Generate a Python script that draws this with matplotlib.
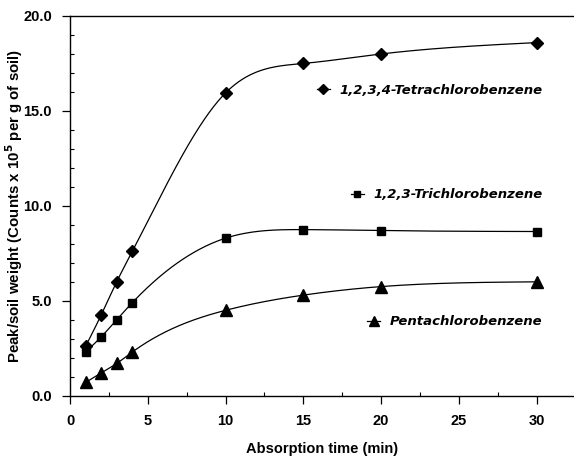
import numpy as np
import matplotlib
matplotlib.use("Agg")
from matplotlib import pyplot as plt
from matplotlib.ticker import MultipleLocator, FormatStrFormatter

plt.rcParams['font.family'] = ['Liberation Sans', 'DejaVu Sans']

# data
time = [1, 2, 3, 4, 10, 15, 20, 30]
tetra = [2.6, 4.25, 6.0, 7.6, 15.95, 17.5, 18.0, 18.6]
tri = [2.3, 3.1, 4.0, 4.9, 8.3, 8.75, 8.7, 8.65]
penta = [0.7, 1.2, 1.7, 2.3, 4.5, 5.3, 5.75, 6.0]
names = ['1,2,3,4-Tetrachlorobenzene', '1,2,3-Trichlorobenzene', 'Pentachlorobenzene']


def natural_spline(x, y, xs):
    x = np.asarray(x, float)
    y = np.asarray(y, float)
    n = len(x)
    h = np.diff(x)
    A = np.zeros((n, n))
    b = np.zeros(n)
    A[0, 0] = 1
    A[-1, -1] = 1
    for i in range(1, n - 1):
        A[i, i - 1] = h[i - 1]
        A[i, i] = 2 * (h[i - 1] + h[i])
        A[i, i + 1] = h[i]
        b[i] = 6 * ((y[i + 1] - y[i]) / h[i] - (y[i] - y[i - 1]) / h[i - 1])
    M = np.linalg.solve(A, b)
    k = np.clip(np.searchsorted(x, xs) - 1, 0, n - 2)
    t0 = x[k + 1] - xs
    t1 = xs - x[k]
    hk = h[k]
    return (M[k] * t0 ** 3 / (6 * hk) + M[k + 1] * t1 ** 3 / (6 * hk)
            + (y[k] / hk - M[k] * hk / 6) * t0
            + (y[k + 1] / hk - M[k + 1] * hk / 6) * t1)


fig = plt.figure(figsize=(5.74, 4.57), dpi=100)
ax = fig.add_axes([0.122, 0.134, 0.878, 0.831])

xs = np.linspace(1, 30, 400)
markers = ['D', 's', '^']
sizes = [6, 5.5, 8]
for ys, m, ms in zip([tetra, tri, penta], markers, sizes):
    ax.plot(xs, natural_spline(time, ys, xs), color='black', lw=0.9)
    ax.plot(time, ys, linestyle='none', marker=m, ms=ms, color='black')

# labels placed like the original's in-plot keys
legend_pos = [(0.937, 0.805), (0.937, 0.529), (0.937, 0.195)]
for i, (name, pos) in enumerate(zip(names, legend_pos)):
    lh, = ax.plot([], [], color='black', lw=0.9, marker=markers[i], ms=sizes[i] - 0.5)
    leg = ax.legend([lh], [name], loc='center right', bbox_to_anchor=pos, frameon=False,
                    handlelength=1.0, handletextpad=0.7, borderpad=0, borderaxespad=0,
                    prop={'family': 'DejaVu Sans', 'weight': 'bold', 'style': 'italic', 'size': 9.5})
    if i < len(names) - 1:
        ax.add_artist(leg)

ax.set_xlim(0, 32.4)
ax.set_ylim(0, 20)
ax.xaxis.set_major_locator(MultipleLocator(5))
ax.xaxis.set_minor_locator(MultipleLocator(2.5))
ax.yaxis.set_major_locator(MultipleLocator(5))
ax.yaxis.set_minor_locator(MultipleLocator(1))
ax.yaxis.set_major_formatter(FormatStrFormatter('%.1f'))
ax.tick_params(which='major', direction='out', length=6, width=0.9, labelsize=10.5, pad=7)
ax.tick_params(which='minor', direction='in', length=3, width=0.8)
for lab in ax.get_xticklabels() + ax.get_yticklabels():
    lab.set_fontweight('bold')
ax.spines['right'].set_visible(False)
for s in ['left', 'bottom', 'top']:
    ax.spines[s].set_linewidth(1.0)

ax.set_xlabel('Absorption time (min)', fontweight='bold', fontsize=10.5, labelpad=10)
ax.set_ylabel('Peak/soil weight (Counts x 10$^\\mathbf{5}$ per g of soil)', fontweight='bold',
              fontsize=10.8)
ax.yaxis.set_label_coords(-0.09, 0.5)

fig.savefig('out.png', dpi=100)
